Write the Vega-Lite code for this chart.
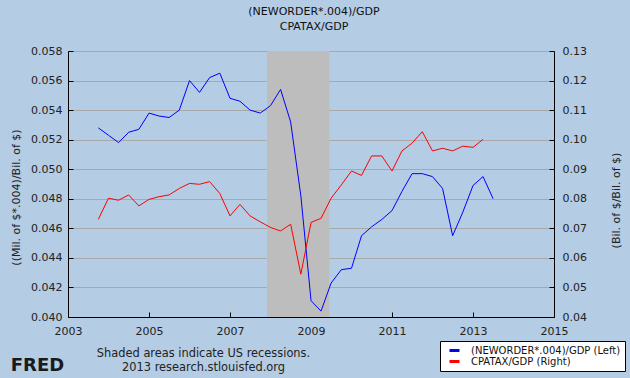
{
  "$schema": "https://vega.github.io/schema/vega-lite/v6.json",
  "width": 486,
  "height": 266,
  "autosize": {"type": "none"},
  "padding": {"left": 68, "top": 51, "right": 76, "bottom": 61},
  "background": "#B4CCE4",
  "title": {
    "text": ["(NEWORDER*.004)/GDP", "CPATAX/GDP"],
    "fontSize": 11,
    "fontWeight": "normal",
    "font": "DejaVu Sans",
    "color": "#111111",
    "lineHeight": 15,
    "anchor": "middle",
    "offset": 13,
    "dx": 3
  },
  "config": {
    "font": "DejaVu Sans",
    "view": {"stroke": null},
    "axis": {
      "labelFont": "DejaVu Sans",
      "labelFontSize": 11,
      "labelColor": "#222222",
      "titleFont": "DejaVu Sans",
      "titleFontSize": 11,
      "titleFontWeight": "normal",
      "titleColor": "#222222",
      "domainColor": "#000000",
      "tickColor": "#000000",
      "labelFlush": false,
      "labelOverlap": false
    }
  },
  "datasets": {
    "recession": [{"start": "2007-12-01", "end": "2009-06-15"}],
    "orders": [
      {"date": "2003-10-01", "series": "(NEWORDER*.004)/GDP (Left)", "value": 0.0528},
      {"date": "2004-01-01", "series": "(NEWORDER*.004)/GDP (Left)", "value": 0.0523},
      {"date": "2004-04-01", "series": "(NEWORDER*.004)/GDP (Left)", "value": 0.0518},
      {"date": "2004-07-01", "series": "(NEWORDER*.004)/GDP (Left)", "value": 0.0525},
      {"date": "2004-10-01", "series": "(NEWORDER*.004)/GDP (Left)", "value": 0.0527},
      {"date": "2005-01-01", "series": "(NEWORDER*.004)/GDP (Left)", "value": 0.0538},
      {"date": "2005-04-01", "series": "(NEWORDER*.004)/GDP (Left)", "value": 0.0536},
      {"date": "2005-07-01", "series": "(NEWORDER*.004)/GDP (Left)", "value": 0.0535},
      {"date": "2005-10-01", "series": "(NEWORDER*.004)/GDP (Left)", "value": 0.0540},
      {"date": "2006-01-01", "series": "(NEWORDER*.004)/GDP (Left)", "value": 0.0560},
      {"date": "2006-04-01", "series": "(NEWORDER*.004)/GDP (Left)", "value": 0.0552},
      {"date": "2006-07-01", "series": "(NEWORDER*.004)/GDP (Left)", "value": 0.0562},
      {"date": "2006-10-01", "series": "(NEWORDER*.004)/GDP (Left)", "value": 0.0565},
      {"date": "2007-01-01", "series": "(NEWORDER*.004)/GDP (Left)", "value": 0.0548},
      {"date": "2007-04-01", "series": "(NEWORDER*.004)/GDP (Left)", "value": 0.0546},
      {"date": "2007-07-01", "series": "(NEWORDER*.004)/GDP (Left)", "value": 0.0540},
      {"date": "2007-10-01", "series": "(NEWORDER*.004)/GDP (Left)", "value": 0.0538},
      {"date": "2008-01-01", "series": "(NEWORDER*.004)/GDP (Left)", "value": 0.0543},
      {"date": "2008-04-01", "series": "(NEWORDER*.004)/GDP (Left)", "value": 0.0554},
      {"date": "2008-07-01", "series": "(NEWORDER*.004)/GDP (Left)", "value": 0.0532},
      {"date": "2008-10-01", "series": "(NEWORDER*.004)/GDP (Left)", "value": 0.0482},
      {"date": "2009-01-01", "series": "(NEWORDER*.004)/GDP (Left)", "value": 0.0411},
      {"date": "2009-04-01", "series": "(NEWORDER*.004)/GDP (Left)", "value": 0.0404},
      {"date": "2009-07-01", "series": "(NEWORDER*.004)/GDP (Left)", "value": 0.0423},
      {"date": "2009-10-01", "series": "(NEWORDER*.004)/GDP (Left)", "value": 0.0432},
      {"date": "2010-01-01", "series": "(NEWORDER*.004)/GDP (Left)", "value": 0.0433},
      {"date": "2010-04-01", "series": "(NEWORDER*.004)/GDP (Left)", "value": 0.0455},
      {"date": "2010-07-01", "series": "(NEWORDER*.004)/GDP (Left)", "value": 0.0461},
      {"date": "2010-10-01", "series": "(NEWORDER*.004)/GDP (Left)", "value": 0.0466},
      {"date": "2011-01-01", "series": "(NEWORDER*.004)/GDP (Left)", "value": 0.0472},
      {"date": "2011-04-01", "series": "(NEWORDER*.004)/GDP (Left)", "value": 0.0485},
      {"date": "2011-07-01", "series": "(NEWORDER*.004)/GDP (Left)", "value": 0.0497},
      {"date": "2011-10-01", "series": "(NEWORDER*.004)/GDP (Left)", "value": 0.0497},
      {"date": "2012-01-01", "series": "(NEWORDER*.004)/GDP (Left)", "value": 0.0495},
      {"date": "2012-04-01", "series": "(NEWORDER*.004)/GDP (Left)", "value": 0.0487},
      {"date": "2012-07-01", "series": "(NEWORDER*.004)/GDP (Left)", "value": 0.0455},
      {"date": "2012-10-01", "series": "(NEWORDER*.004)/GDP (Left)", "value": 0.0471},
      {"date": "2013-01-01", "series": "(NEWORDER*.004)/GDP (Left)", "value": 0.0489},
      {"date": "2013-04-01", "series": "(NEWORDER*.004)/GDP (Left)", "value": 0.0495},
      {"date": "2013-07-01", "series": "(NEWORDER*.004)/GDP (Left)", "value": 0.0480}
    ],
    "taxes": [
      {"date": "2003-10-01", "series": "CPATAX/GDP (Right)", "value": 0.0730},
      {"date": "2004-01-01", "series": "CPATAX/GDP (Right)", "value": 0.0802},
      {"date": "2004-04-01", "series": "CPATAX/GDP (Right)", "value": 0.0795},
      {"date": "2004-07-01", "series": "CPATAX/GDP (Right)", "value": 0.0813},
      {"date": "2004-10-01", "series": "CPATAX/GDP (Right)", "value": 0.0776},
      {"date": "2005-01-01", "series": "CPATAX/GDP (Right)", "value": 0.0798},
      {"date": "2005-04-01", "series": "CPATAX/GDP (Right)", "value": 0.0807},
      {"date": "2005-07-01", "series": "CPATAX/GDP (Right)", "value": 0.0813},
      {"date": "2005-10-01", "series": "CPATAX/GDP (Right)", "value": 0.0835},
      {"date": "2006-01-01", "series": "CPATAX/GDP (Right)", "value": 0.0852},
      {"date": "2006-04-01", "series": "CPATAX/GDP (Right)", "value": 0.0849},
      {"date": "2006-07-01", "series": "CPATAX/GDP (Right)", "value": 0.0858},
      {"date": "2006-10-01", "series": "CPATAX/GDP (Right)", "value": 0.0818},
      {"date": "2007-01-01", "series": "CPATAX/GDP (Right)", "value": 0.0742},
      {"date": "2007-04-01", "series": "CPATAX/GDP (Right)", "value": 0.0781},
      {"date": "2007-07-01", "series": "CPATAX/GDP (Right)", "value": 0.0742},
      {"date": "2007-10-01", "series": "CPATAX/GDP (Right)", "value": 0.0722},
      {"date": "2008-01-01", "series": "CPATAX/GDP (Right)", "value": 0.0703},
      {"date": "2008-04-01", "series": "CPATAX/GDP (Right)", "value": 0.0691},
      {"date": "2008-07-01", "series": "CPATAX/GDP (Right)", "value": 0.0714},
      {"date": "2008-10-01", "series": "CPATAX/GDP (Right)", "value": 0.0545},
      {"date": "2009-01-01", "series": "CPATAX/GDP (Right)", "value": 0.0720},
      {"date": "2009-04-01", "series": "CPATAX/GDP (Right)", "value": 0.0734},
      {"date": "2009-07-01", "series": "CPATAX/GDP (Right)", "value": 0.0802},
      {"date": "2009-10-01", "series": "CPATAX/GDP (Right)", "value": 0.0847},
      {"date": "2010-01-01", "series": "CPATAX/GDP (Right)", "value": 0.0894},
      {"date": "2010-04-01", "series": "CPATAX/GDP (Right)", "value": 0.0879},
      {"date": "2010-07-01", "series": "CPATAX/GDP (Right)", "value": 0.0945},
      {"date": "2010-10-01", "series": "CPATAX/GDP (Right)", "value": 0.0945},
      {"date": "2011-01-01", "series": "CPATAX/GDP (Right)", "value": 0.0894},
      {"date": "2011-04-01", "series": "CPATAX/GDP (Right)", "value": 0.0962},
      {"date": "2011-07-01", "series": "CPATAX/GDP (Right)", "value": 0.0988},
      {"date": "2011-10-01", "series": "CPATAX/GDP (Right)", "value": 0.1027},
      {"date": "2012-01-01", "series": "CPATAX/GDP (Right)", "value": 0.0962},
      {"date": "2012-04-01", "series": "CPATAX/GDP (Right)", "value": 0.0971},
      {"date": "2012-07-01", "series": "CPATAX/GDP (Right)", "value": 0.0962},
      {"date": "2012-10-01", "series": "CPATAX/GDP (Right)", "value": 0.0978},
      {"date": "2013-01-01", "series": "CPATAX/GDP (Right)", "value": 0.0974},
      {"date": "2013-04-01", "series": "CPATAX/GDP (Right)", "value": 0.1001}
    ]
  },
  "layer": [
    {
      "data": {"name": "recession"},
      "mark": {"type": "rect", "color": "#BDBDBD"},
      "encoding": {
        "x": {
          "field": "start",
          "type": "temporal",
          "scale": {"domain": [{"year": 2003, "month": 1, "date": 1}, {"year": 2015, "month": 1, "date": 1}], "nice": false},
          "axis": {
            "orient": "bottom",
            "values": [{"year": 2003}, {"year": 2005}, {"year": 2007}, {"year": 2009}, {"year": 2011}, {"year": 2013}, {"year": 2015}],
            "format": "%Y",
            "grid": false,
            "tickSize": -5,
            "labelPadding": 13,
            "title": ["Shaded areas indicate US recessions.", "2013 research.stlouisfed.org"],
            "titleFontSize": 11.4,
            "titleX": 135,
            "titleY": 39,
            "titleAlign": "center",
            "titleAnchor": null,
            "titleBaseline": "alphabetic",
            "titleLineHeight": 14
          }
        },
        "x2": {"field": "end"}
      }
    },
    {
      "data": {"name": "orders"},
      "mark": {"type": "line", "strokeWidth": 1},
      "encoding": {
        "x": {
          "field": "date",
          "type": "temporal",
          "scale": {"domain": [{"year": 2003, "month": 1, "date": 1}, {"year": 2015, "month": 1, "date": 1}], "nice": false},
          "axis": {
            "orient": "bottom",
            "labels": false,
            "ticks": false,
            "domain": false,
            "grid": false,
            "title": "FRED",
            "titleFont": "DejaVu Sans",
            "titleFontSize": 18,
            "titleFontWeight": "bold",
            "titleColor": "#1a1a1a",
            "titleX": -31,
            "titleY": 53,
            "titleAlign": "center",
            "titleBaseline": "alphabetic"
          }
        },
        "y": {
          "field": "value",
          "type": "quantitative",
          "scale": {"domain": [0.04, 0.058], "nice": false, "zero": false},
          "axis": {
            "orient": "left",
            "values": [0.04, 0.042, 0.044, 0.046, 0.048, 0.05, 0.052, 0.054, 0.056, 0.058],
            "format": ".3f",
            "grid": true,
            "gridColor": "#A8A8A8",
            "gridOpacity": 1,
            "tickSize": -5,
            "labelPadding": 11,
            "title": "((Mil. of $*.004)/Bil. of $)",
            "titleAngle": 270,
            "titleX": -52,
            "titleY": 146,
            "titleAlign": "center",
            "titleBaseline": "middle"
          }
        },
        "color": {
          "field": "series",
          "type": "nominal",
          "scale": {"domain": ["(NEWORDER*.004)/GDP (Left)", "CPATAX/GDP (Right)"], "range": ["#0000FF", "#FF0000"]},
          "legend": {
            "orient": "none",
            "legendX": 372,
            "legendY": 290,
            "title": null,
            "direction": "vertical",
            "strokeColor": "#000000",
            "fillColor": "#FFFFFF",
            "padding": 4,
            "symbolType": "stroke",
            "symbolSize": 100,
            "symbolStrokeWidth": 3,
            "symbolOffset": 4,
            "labelOffset": 10,
            "labelFont": "DejaVu Sans",
            "labelFontSize": 10,
            "labelColor": "#111111",
            "labelLimit": 300,
            "rowPadding": 0,
            "clipHeight": 11
          }
        }
      }
    },
    {
      "data": {"name": "taxes"},
      "mark": {"type": "line", "strokeWidth": 1},
      "encoding": {
        "x": {
          "field": "date",
          "type": "temporal",
          "scale": {"domain": [{"year": 2003, "month": 1, "date": 1}, {"year": 2015, "month": 1, "date": 1}], "nice": false},
          "axis": null
        },
        "y": {
          "field": "value",
          "type": "quantitative",
          "scale": {"domain": [0.04, 0.13], "nice": false, "zero": false},
          "axis": {
            "orient": "right",
            "values": [0.04, 0.05, 0.06, 0.07, 0.08, 0.09, 0.1, 0.11, 0.12, 0.13],
            "format": ".2f",
            "grid": false,
            "tickSize": -5,
            "labelPadding": 13,
            "title": "(Bil. of $/Bil. of $)",
            "titleAngle": 270,
            "titleX": 62,
            "titleY": 149,
            "titleAlign": "center",
            "titleBaseline": "middle"
          }
        },
        "color": {"field": "series", "type": "nominal"}
      }
    }
  ],
  "resolve": {"scale": {"y": "independent"}, "axis": {"x": "independent"}}
}
